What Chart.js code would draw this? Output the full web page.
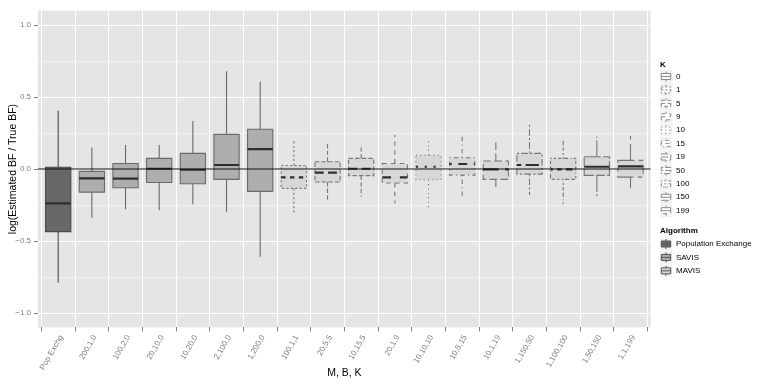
<!DOCTYPE html>
<html><head><meta charset="utf-8">
<script src="https://cdn.jsdelivr.net/npm/chart.js@4/dist/chart.umd.min.js"></script>
<style>html,body{margin:0;padding:0;background:#fff}canvas{display:block}</style>
</head><body>
<canvas id="c" width="770" height="385"></canvas>
<script>
// ---- data ----
const categories = ["Pop Exchg","200,1,0","100,2,0","20,10,0","10,20,0","2,100,0","1,200,0","100,1,1","20,5,5","10,15,5","20,1,9","10,10,10","10,5,15","10,1,19","1,150,50","1,100,100","1,50,150","1,1,199"];
const algorithm = ["Population Exchange","SAVIS","SAVIS","SAVIS","SAVIS","SAVIS","SAVIS","MAVIS","MAVIS","MAVIS","MAVIS","MAVIS","MAVIS","MAVIS","MAVIS","MAVIS","MAVIS","MAVIS"];
const kValues = [0,0,0,0,0,0,0,1,5,5,9,10,15,19,50,100,150,199];
const whiskerLow  = [-0.79,-0.338,-0.28,-0.287,-0.245,-0.296,-0.609,-0.303,-0.227,-0.192,-0.238,-0.285,-0.197,-0.148,-0.181,-0.245,-0.188,-0.134];
const q1          = [-0.435,-0.16,-0.13,-0.093,-0.102,-0.072,-0.155,-0.134,-0.09,-0.046,-0.097,-0.074,-0.042,-0.072,-0.035,-0.072,-0.044,-0.056];
const median      = [-0.238,-0.065,-0.067,0.002,-0.005,0.028,0.139,-0.058,-0.025,0.002,-0.058,0.016,0.035,-0.002,0.028,-0.002,0.016,0.019];
const q3          = [0.012,-0.016,0.039,0.074,0.109,0.241,0.276,0.025,0.051,0.074,0.039,0.095,0.079,0.056,0.109,0.074,0.085,0.06];
const whiskerHigh = [0.405,0.15,0.167,0.167,0.333,0.68,0.609,0.197,0.178,0.167,0.236,0.213,0.229,0.185,0.31,0.208,0.224,0.229];
const yMajorTicks = [-1.0,-0.5,0.0,0.5,1.0];
const yMinorTicks = [-0.75,-0.25,0.25,0.75];
const kLevels = [0,1,5,9,10,15,19,50,100,150,199];
const algorithmLevels = ["Population Exchange","SAVIS","MAVIS"];

// ---- styles ----
const FONT = "'Liberation Sans', Arial, sans-serif";
const linetypeOrder = ["solid","22","42","44","13","1343","73","2262","12223242","F282","F4448444"];
const fillColor = {"Population Exchange":"rgba(90,90,90,0.9)","SAVIS":"rgba(167,167,167,0.9)","MAVIS":"rgba(213,213,213,0.9)"};
const lineColor = {"Population Exchange":"#4a4a4a","SAVIS":"#6a6a6a","MAVIS":"#777777"};
function linetypeFor(k){ return linetypeOrder[kLevels.indexOf(k)]; }
function dashFor(pat, unit){
  if (pat === "solid") return [];
  return pat.split("").map(ch => parseInt(ch,16)*unit);
}
function seg(ctx,x1,y1,x2,y2){ ctx.beginPath(); ctx.moveTo(x1,y1); ctx.lineTo(x2,y2); ctx.stroke(); }
function fmt(v){ const s = Math.abs(v).toFixed(1); return v < 0 ? "\u2212"+s : s; }

const boxPlugin = {
  id: "boxplots",
  beforeDraw(chart){
    const {ctx, chartArea:a} = chart;
    ctx.save(); ctx.fillStyle = "#E5E5E5";
    ctx.fillRect(a.left, a.top, a.right-a.left, a.bottom-a.top); ctx.restore();
  },
  afterDatasetsDraw(chart){
    const {ctx, chartArea:a} = chart;
    const xs = chart.scales.x, ys = chart.scales.y;
    ctx.save();
    ctx.beginPath(); ctx.rect(a.left, a.top, a.right-a.left, a.bottom-a.top); ctx.clip();
    categories.forEach((c,i)=>{
      const xc = xs.getPixelForValue(i), xl = xs.getPixelForValue(i-0.375), xr = xs.getPixelForValue(i+0.375);
      const pat = linetypeFor(kValues[i]);
      ctx.strokeStyle = lineColor[algorithm[i]];
      ctx.lineWidth = 1.1;
      ctx.setLineDash(dashFor(pat, 1.1));
      seg(ctx, xc, ys.getPixelForValue(q3[i]), xc, ys.getPixelForValue(whiskerHigh[i]));
      seg(ctx, xc, ys.getPixelForValue(q1[i]), xc, ys.getPixelForValue(whiskerLow[i]));
      ctx.beginPath();
      ctx.rect(xl, ys.getPixelForValue(q3[i]), xr-xl, ys.getPixelForValue(q1[i])-ys.getPixelForValue(q3[i]));
      ctx.stroke();
      ctx.strokeStyle = "#2e2e2e"; ctx.lineWidth = 2.2;
      ctx.setLineDash(dashFor(pat, 2.2));
      const ym = ys.getPixelForValue(median[i]);
      seg(ctx, xl, ym, xr, ym);
    });
    ctx.setLineDash([]);
    ctx.strokeStyle = "#111"; ctx.lineWidth = 1.1;
    const y0 = ys.getPixelForValue(0);
    seg(ctx, a.left, y0, a.right, y0);
    ctx.restore();
  },
  afterDraw(chart){
    const ctx = chart.ctx;
    const lx = 660, kw = 12;
    function key(cy, fill, stroke, pat){
      ctx.save();
      ctx.fillStyle = "#F2F2F2"; ctx.fillRect(lx, cy-6.5, kw, 13);
      ctx.strokeStyle = stroke; ctx.lineWidth = 1; ctx.setLineDash(dashFor(pat, 1));
      const xc = lx + kw/2;
      seg(ctx, xc, cy-5, xc, cy-3); seg(ctx, xc, cy+3, xc, cy+5);
      ctx.fillStyle = fill; ctx.fillRect(lx+1.3, cy-3, kw-2.6, 6);
      ctx.beginPath(); ctx.rect(lx+1.3, cy-3, kw-2.6, 6); ctx.stroke();
      seg(ctx, lx+1.3, cy, lx+kw-1.3, cy);
      ctx.restore();
    }
    ctx.save();
    ctx.textBaseline = "middle"; ctx.textAlign = "left"; ctx.fillStyle = "#000";
    ctx.font = "bold 8px " + FONT; ctx.fillText("K", lx, 65);
    kLevels.forEach((k,j)=>{
      const cy = 76.5 + j*13.42;
      key(cy, "#FFFFFF", "#8a8a8a", linetypeFor(k));
      ctx.fillStyle = "#000"; ctx.font = "8px " + FONT; ctx.fillText(String(k), 676, cy);
    });
    ctx.font = "bold 8px " + FONT; ctx.fillStyle = "#000"; ctx.fillText("Algorithm", lx, 230.5);
    algorithmLevels.forEach((al,j)=>{
      const cy = 244 + j*13.42;
      key(cy, fillColor[al], "#555555", "solid");
      ctx.fillStyle = "#000"; ctx.font = "8px " + FONT; ctx.fillText(al, 676, cy);
    });
    ctx.restore();
  }
};

const isMajor = v => yMajorTicks.some(t => Math.abs(t - v) < 1e-9);

new Chart(document.getElementById("c"), {
  type: "bar",
  data: {
    datasets: [{
      data: categories.map((c,i)=>({x:i, y:[q1[i], q3[i]]})),
      backgroundColor: categories.map((c,i)=>fillColor[algorithm[i]]),
      borderWidth: 0,
      barPercentage: 0.75,
      categoryPercentage: 1
    }]
  },
  options: {
    responsive: false, animation: false, devicePixelRatio: 1,
    layout: { padding: { top: 10.7, right: 119.3, bottom: 0, left: 0 } },
    plugins: { legend: { display: false }, tooltip: { enabled: false } },
    scales: {
      x: {
        type: "linear", min: -0.6, max: 17.6, offset: false,
        afterBuildTicks: s => { s.ticks = categories.map((c,i)=>({value:i})); },
        afterFit: s => { s.height = 57.6; s.paddingLeft = 0; s.paddingRight = 0; },
        ticks: { autoSkip: false, minRotation: 60, maxRotation: 60, padding: 2, labelOffset: 3, color: "#7f7f7f",
                 font: { family: FONT, size: 8 }, callback: v => categories[v] },
        grid: { color: "#FFFFFF", lineWidth: 1, tickLength: 4, tickColor: "#7f7f7f", drawTicks: true },
        border: { display: false },
        title: { display: true, text: "M, B, K", color: "#000", font: { family: FONT, size: 10.5 }, padding: { top: 0, bottom: 6 } }
      },
      y: {
        min: -1.1, max: 1.1,
        afterBuildTicks: s => { s.ticks = yMajorTicks.concat(yMinorTicks).sort((a,b)=>a-b).map(v=>({value:v})); },
        afterFit: s => { s.width = 38; },
        ticks: { padding: 3, color: "#7f7f7f", font: { family: FONT, size: 8 },
                 callback: v => isMajor(v) ? fmt(v) : "" },
        grid: { color: c => isMajor(c.tick.value) ? "#FFFFFF" : "#F2F2F2", lineWidth: 1, tickLength: 4,
                tickColor: c => isMajor(c.tick.value) ? "#7f7f7f" : "rgba(0,0,0,0)" },
        border: { display: false },
        title: { display: true, text: "log(Estimated BF / True BF)", color: "#000", font: { family: FONT, size: 10.5 }, padding: { top: 7, bottom: 0 } }
      }
    }
  },
  plugins: [boxPlugin]
});
</script>
</body></html>
